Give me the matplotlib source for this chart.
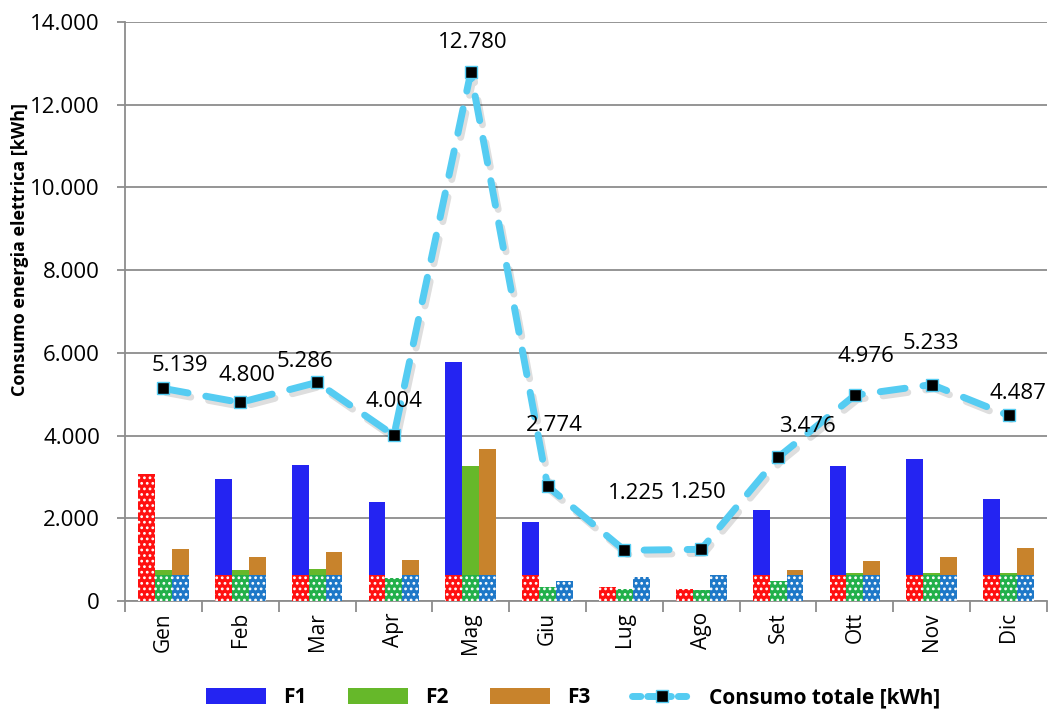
import numpy as np
import matplotlib
matplotlib.use("Agg")
from matplotlib import pyplot as plt
from matplotlib import patheffects as pe
from matplotlib.lines import Line2D
from matplotlib.ticker import FuncFormatter

months = ["Gen", "Feb", "Mar", "Apr", "Mag", "Giu", "Lug", "Ago", "Set", "Ott", "Nov", "Dic"]

# solid bars
f1 = [3070, 2950, 3290, 2400, 5780, 1910, 0, 0, 2200, 3265, 3435, 2470]
f2 = [750, 750, 775, 560, 3265, 0, 0, 0, 0, 680, 680, 680]
f3 = [1260, 1065, 1185, 1000, 3680, 0, 0, 0, 750, 970, 1065, 1285]

# dotted bars drawn over the base of the solid ones
f1_dot = [3070, 630, 630, 630, 630, 630, 340, 300, 630, 630, 630, 630]
f2_dot = [630, 630, 630, 560, 630, 340, 290, 270, 480, 630, 630, 630]
f3_dot = [630, 630, 630, 630, 630, 480, 580, 620, 630, 630, 630, 630]

totale = [5139, 4800, 5286, 4004, 12780, 2774, 1225, 1250, 3476, 4976, 5233, 4487]

# label offsets in pixels (dx, dy) from each point to label centre
label_offsets = [(17, 23), (7, 27), (-12, 21), (0, 34), (2, 30), (7, 61),
                 (12, 57), (-3, 57), (29, 31), (11, 39), (-1, 41), (9, 22)]

LINE_COL = "#55CCF2"


def fmt_it(v, _pos=None):
    return f"{int(round(v)):,}".replace(",", ".")


plt.rcParams["font.family"] = ["Open Sans", "DejaVu Sans"]
plt.rcParams["hatch.linewidth"] = 1.2

fig = plt.figure(figsize=(10.61, 7.2), dpi=100)
ax = fig.add_axes([125 / 1061, 119 / 720, 922 / 1061, 579 / 720])

x = np.arange(len(months))
w = 0.22

b1 = ax.bar(x - w, f1, w, color="#2424F2", zorder=2)
b2 = ax.bar(x, f2, w, color="#66B82A", zorder=2)
b3 = ax.bar(x + w, f3, w, color="#C8832C", zorder=2)

for vals, col, dx in ((f1_dot, "#FF1010", -w), (f2_dot, "#22B04A", 0), (f3_dot, "#1E78C8", w)):
    ax.bar(x + dx, vals, w, color=col, edgecolor="#FFFFFF", linewidth=0,
           hatch="...", zorder=3)

# dashed line with a soft shadow, markers drawn separately
ax.plot(x, totale, color=LINE_COL, lw=5, dashes=(3.6, 2.6),
        dash_capstyle="round", zorder=4,
        path_effects=[pe.SimpleLineShadow(offset=(2, -3), alpha=0.13),
                      pe.Normal()])
ax.plot(x, totale, ls="none", marker="s", markersize=8,
        markerfacecolor="black", markeredgecolor=LINE_COL,
        markeredgewidth=1, zorder=5)

for xi, v, (dx, dy) in zip(x, totale, label_offsets):
    ax.annotate(fmt_it(v), (xi, v), xytext=(dx, dy), textcoords="offset pixels",
                ha="center", va="center", fontsize=16, color="black", zorder=6)

ax.set_xlim(-0.5, len(months) - 0.5)
ax.set_ylim(0, 14000)
ax.set_yticks(np.arange(0, 14001, 2000))
ax.yaxis.set_major_formatter(FuncFormatter(fmt_it))
ax.yaxis.grid(True, color="#8C8C8C", lw=1.3, zorder=0)
ax.set_axisbelow(True)

ax.set_xticks(x)
ax.set_xticklabels(months, rotation=90, fontsize=15)
ax.set_xticks(np.arange(-0.5, len(months)), minor=True)
ax.tick_params(axis="x", which="major", length=0, pad=8)
ax.tick_params(axis="x", which="minor", length=8, color="#8C8C8C", width=1.3)
ax.tick_params(axis="y", length=6, color="#8C8C8C", width=1.3, labelsize=16, pad=12)

for s in ("top", "right"):
    ax.spines[s].set_visible(False)
for s in ("left", "bottom"):
    ax.spines[s].set_color("#8C8C8C")
    ax.spines[s].set_linewidth(1.3)

fig.text(20 / 1061, 1 - 250 / 720, "Consumo energia elettrica [kWh]", rotation=90,
         ha="center", va="center", fontsize=13, fontweight="bold")

line_handle = Line2D([], [], color=LINE_COL, lw=5, dashes=(1.2, 1.0),
                     dash_capstyle="round", marker="s", markersize=8,
                     markerfacecolor="black", markeredgecolor=LINE_COL)
fig.legend([b1, b2, b3, line_handle], ["F1", "F2", "F3", "Consumo totale [kWh]"],
           loc="lower center", bbox_to_anchor=(0.54, -0.01), ncol=4,
           frameon=False, handlelength=2.9, handleheight=0.8, handletextpad=0.8,
           columnspacing=2.0, prop={"weight": "bold", "size": 15})

fig.savefig("out.png", dpi=100)
